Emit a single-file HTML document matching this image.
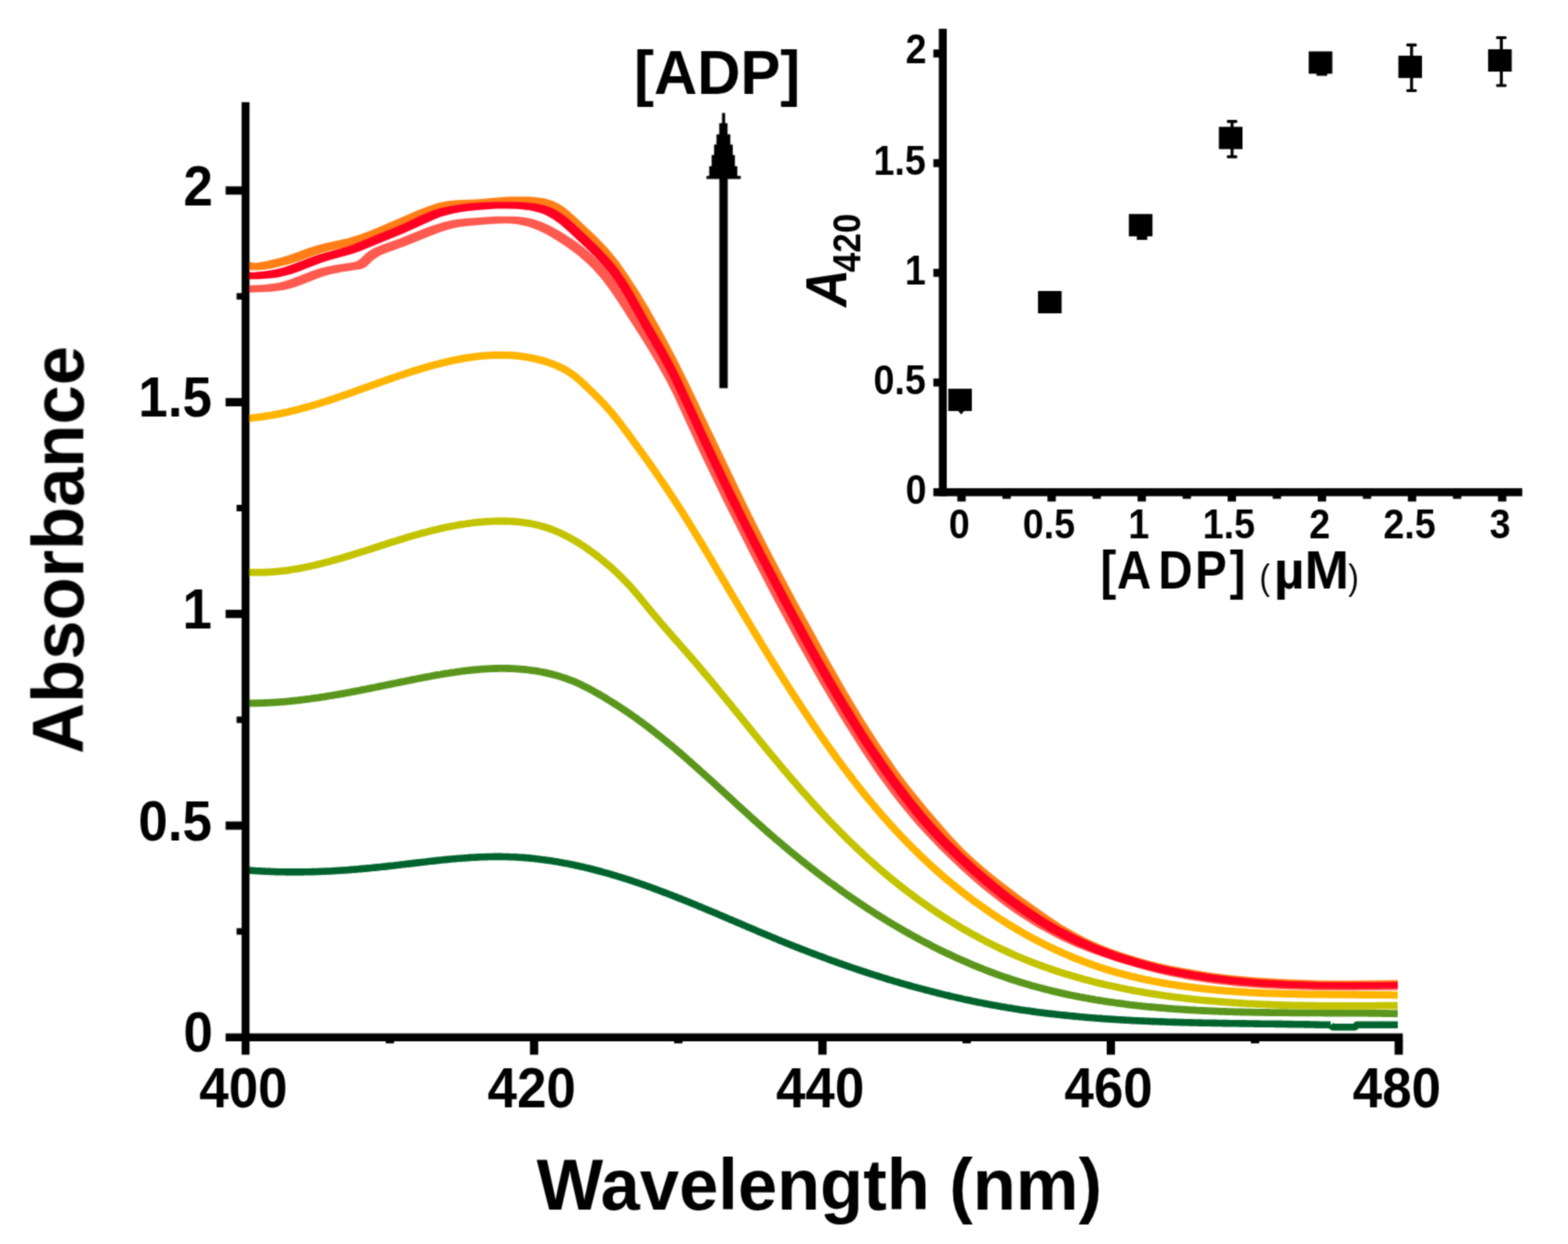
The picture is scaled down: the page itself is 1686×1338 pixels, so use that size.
<!DOCTYPE html>
<html><head><meta charset="utf-8"><title>Absorbance vs Wavelength</title>
<style>html,body{margin:0;padding:0;background:#fff;} svg{display:block;}</style>
</head><body>
<svg width="1686" height="1338" viewBox="0 0 1686 1338" font-family="Liberation Sans, Arial, sans-serif">
<defs><filter id="soft" x="0" y="0" width="100%" height="100%" filterUnits="userSpaceOnUse"><feConvolveMatrix order="3" kernelMatrix="0.0400 0.1200 0.0400 0.1200 0.3600 0.1200 0.0400 0.1200 0.0400" divisor="1" edgeMode="duplicate"/></filter></defs>
<rect width="1686" height="1338" fill="#ffffff"/>
<g filter="url(#soft)">
<path d="M1431.0,1102.2 L1433.0,1104.8 L1457.0,1104.8 L1459.0,1102.2 L1503.0,1102.2" fill="none" stroke="#00632d" stroke-width="7.6" stroke-linejoin="round"/>
<path d="M264.2,935.8 L266.2,935.9 L268.2,936.1 L270.2,936.2 L272.2,936.4 L274.2,936.5 L276.2,936.7 L278.2,936.8 L280.2,936.9 L282.2,937.0 L284.2,937.1 L286.2,937.2 L288.2,937.3 L290.2,937.4 L292.2,937.5 L294.1,937.5 L296.1,937.6 L298.1,937.7 L300.1,937.7 L302.1,937.8 L304.1,937.8 L306.1,937.8 L308.1,937.9 L310.1,937.9 L312.0,937.9 L314.0,937.9 L316.0,937.9 L318.0,937.9 L320.0,937.9 L322.0,937.9 L324.0,937.9 L325.9,937.9 L327.9,937.8 L329.9,937.8 L331.9,937.7 L333.9,937.7 L335.9,937.6 L337.8,937.6 L339.8,937.5 L341.8,937.5 L343.8,937.4 L345.8,937.3 L347.8,937.2 L349.7,937.1 L351.7,937.0 L353.7,937.0 L355.7,936.9 L357.7,936.7 L359.7,936.6 L361.6,936.5 L363.6,936.4 L365.6,936.3 L367.6,936.1 L369.6,936.0 L371.6,935.9 L373.5,935.7 L375.5,935.6 L377.5,935.4 L379.5,935.3 L381.5,935.1 L383.5,935.0 L385.4,934.8 L387.4,934.6 L389.4,934.4 L391.4,934.3 L393.4,934.1 L395.4,933.9 L397.4,933.7 L399.3,933.5 L401.3,933.3 L403.3,933.1 L405.3,932.9 L407.3,932.7 L409.3,932.5 L411.3,932.3 L413.3,932.1 L415.3,931.9 L417.2,931.6 L419.2,931.4 L421.2,931.2 L423.2,931.0 L425.2,930.7 L427.2,930.5 L429.2,930.3 L431.2,930.0 L433.2,929.8 L435.2,929.6 L437.2,929.3 L439.2,929.1 L441.2,928.9 L443.2,928.6 L445.2,928.4 L447.2,928.1 L449.2,927.9 L451.2,927.7 L453.2,927.4 L455.2,927.2 L457.2,927.0 L459.2,926.7 L461.2,926.5 L463.1,926.3 L465.1,926.1 L467.1,925.9 L469.1,925.6 L471.1,925.4 L473.1,925.2 L475.1,925.0 L477.1,924.8 L479.1,924.6 L481.1,924.4 L483.1,924.2 L485.1,924.0 L487.1,923.8 L489.1,923.7 L491.1,923.5 L493.1,923.3 L495.1,923.2 L497.1,923.0 L499.1,922.9 L501.1,922.7 L503.1,922.6 L505.1,922.4 L507.1,922.3 L509.1,922.2 L511.1,922.1 L513.1,922.0 L515.1,921.9 L517.1,921.8 L519.0,921.7 L521.0,921.7 L523.0,921.6 L525.0,921.5 L527.0,921.5 L529.0,921.5 L531.0,921.4 L533.0,921.4 L535.0,921.4 L537.0,921.4 L538.9,921.4 L540.9,921.5 L542.9,921.5 L544.9,921.5 L546.9,921.6 L548.9,921.7 L550.9,921.7 L552.8,921.8 L554.8,921.9 L556.8,922.0 L558.8,922.2 L560.8,922.3 L562.7,922.4 L564.7,922.6 L566.7,922.8 L568.7,922.9 L570.7,923.1 L572.6,923.3 L574.6,923.5 L576.6,923.8 L578.5,924.0 L580.5,924.2 L582.5,924.5 L584.5,924.7 L586.4,925.0 L588.4,925.3 L590.4,925.5 L592.3,925.8 L594.3,926.1 L596.2,926.5 L598.2,926.8 L600.2,927.1 L602.1,927.5 L604.1,927.8 L606.0,928.2 L608.0,928.5 L609.9,928.9 L611.9,929.3 L613.8,929.7 L615.8,930.1 L617.7,930.5 L619.7,930.9 L621.6,931.3 L623.6,931.8 L625.5,932.2 L627.5,932.6 L629.4,933.1 L631.3,933.6 L633.3,934.0 L635.2,934.5 L637.1,935.0 L639.1,935.5 L641.0,936.0 L642.9,936.5 L644.9,937.0 L646.8,937.5 L648.7,938.1 L650.6,938.6 L652.5,939.1 L654.5,939.7 L656.4,940.2 L658.3,940.8 L660.2,941.4 L662.1,941.9 L664.0,942.5 L665.9,943.1 L667.8,943.7 L669.8,944.3 L671.7,944.9 L673.6,945.5 L675.5,946.1 L677.4,946.7 L679.2,947.3 L681.1,948.0 L683.0,948.6 L684.9,949.2 L686.8,949.9 L688.7,950.5 L690.6,951.2 L692.5,951.8 L694.3,952.5 L696.2,953.2 L698.1,953.8 L700.0,954.5 L701.8,955.2 L703.7,955.9 L705.6,956.6 L707.5,957.3 L709.3,958.0 L711.2,958.7 L713.1,959.4 L714.9,960.1 L716.8,960.8 L718.6,961.5 L720.5,962.2 L722.4,962.9 L724.2,963.7 L726.1,964.4 L727.9,965.1 L729.8,965.9 L731.6,966.6 L733.5,967.3 L735.3,968.1 L737.2,968.8 L739.0,969.6 L740.9,970.3 L742.7,971.1 L744.6,971.8 L746.4,972.6 L748.3,973.3 L750.1,974.1 L752.0,974.9 L753.8,975.6 L755.6,976.4 L757.5,977.2 L759.3,977.9 L761.2,978.7 L763.0,979.5 L764.8,980.3 L766.7,981.0 L768.5,981.8 L770.4,982.6 L772.2,983.4 L774.0,984.2 L775.9,984.9 L777.7,985.7 L779.6,986.5 L781.4,987.3 L783.2,988.1 L785.1,988.9 L786.9,989.6 L788.7,990.4 L790.6,991.2 L792.4,992.0 L794.2,992.8 L796.1,993.6 L797.9,994.4 L799.8,995.1 L801.6,995.9 L803.4,996.7 L805.3,997.5 L807.1,998.3 L809.0,999.1 L810.8,999.8 L812.6,1000.6 L814.5,1001.4 L816.3,1002.2 L818.1,1003.0 L820.0,1003.7 L821.8,1004.5 L823.7,1005.3 L825.5,1006.1 L827.4,1006.8 L829.2,1007.6 L831.0,1008.4 L832.9,1009.1 L834.7,1009.9 L836.6,1010.7 L838.4,1011.4 L840.3,1012.2 L842.1,1012.9 L844.0,1013.7 L845.8,1014.4 L847.7,1015.2 L849.5,1015.9 L851.4,1016.7 L853.3,1017.4 L855.1,1018.2 L857.0,1018.9 L858.8,1019.6 L860.7,1020.4 L862.5,1021.1 L864.4,1021.8 L866.3,1022.5 L868.1,1023.3 L870.0,1024.0 L871.9,1024.7 L873.7,1025.4 L875.6,1026.1 L877.5,1026.8 L879.3,1027.5 L881.2,1028.2 L883.1,1028.9 L885.0,1029.6 L886.8,1030.3 L888.7,1031.0 L890.6,1031.7 L892.5,1032.4 L894.3,1033.1 L896.2,1033.7 L898.1,1034.4 L900.0,1035.1 L901.9,1035.8 L903.7,1036.4 L905.6,1037.1 L907.5,1037.7 L909.4,1038.4 L911.3,1039.1 L913.2,1039.7 L915.0,1040.4 L916.9,1041.0 L918.8,1041.6 L920.7,1042.3 L922.6,1042.9 L924.5,1043.6 L926.4,1044.2 L928.3,1044.8 L930.2,1045.4 L932.1,1046.1 L934.0,1046.7 L935.9,1047.3 L937.8,1047.9 L939.7,1048.5 L941.6,1049.1 L943.5,1049.7 L945.4,1050.3 L947.3,1050.9 L949.2,1051.5 L951.1,1052.1 L953.0,1052.7 L954.9,1053.3 L956.8,1053.9 L958.7,1054.4 L960.6,1055.0 L962.5,1055.6 L964.5,1056.1 L966.4,1056.7 L968.3,1057.3 L970.2,1057.8 L972.1,1058.4 L974.0,1058.9 L975.9,1059.5 L977.9,1060.0 L979.8,1060.5 L981.7,1061.1 L983.6,1061.6 L985.5,1062.1 L987.5,1062.7 L989.4,1063.2 L991.3,1063.7 L993.2,1064.2 L995.2,1064.7 L997.1,1065.2 L999.0,1065.7 L1000.9,1066.2 L1002.9,1066.7 L1004.8,1067.2 L1006.7,1067.7 L1008.7,1068.2 L1010.6,1068.7 L1012.5,1069.1 L1014.5,1069.6 L1016.4,1070.1 L1018.3,1070.5 L1020.3,1071.0 L1022.2,1071.5 L1024.1,1071.9 L1026.1,1072.4 L1028.0,1072.8 L1030.0,1073.3 L1031.9,1073.7 L1033.9,1074.1 L1035.8,1074.6 L1037.7,1075.0 L1039.7,1075.4 L1041.6,1075.8 L1043.6,1076.2 L1045.5,1076.7 L1047.5,1077.1 L1049.4,1077.5 L1051.4,1077.9 L1053.3,1078.3 L1055.3,1078.6 L1057.2,1079.0 L1059.2,1079.4 L1061.1,1079.8 L1063.1,1080.2 L1065.0,1080.5 L1067.0,1080.9 L1069.0,1081.3 L1070.9,1081.6 L1072.9,1082.0 L1074.8,1082.3 L1076.8,1082.7 L1078.8,1083.0 L1080.7,1083.3 L1082.7,1083.7 L1084.6,1084.0 L1086.6,1084.3 L1088.6,1084.6 L1090.5,1085.0 L1092.5,1085.3 L1094.5,1085.6 L1096.4,1085.9 L1098.4,1086.2 L1100.4,1086.5 L1102.3,1086.8 L1104.3,1087.0 L1106.3,1087.3 L1108.3,1087.6 L1110.2,1087.9 L1112.2,1088.1 L1114.2,1088.4 L1116.2,1088.7 L1118.1,1088.9 L1120.1,1089.2 L1122.1,1089.4 L1124.1,1089.7 L1126.0,1089.9 L1128.0,1090.2 L1130.0,1090.4 L1132.0,1090.6 L1134.0,1090.8 L1135.9,1091.1 L1137.9,1091.3 L1139.9,1091.5 L1141.9,1091.7 L1143.9,1091.9 L1145.9,1092.1 L1147.8,1092.3 L1149.8,1092.5 L1151.8,1092.7 L1153.8,1092.9 L1155.8,1093.1 L1157.8,1093.3 L1159.8,1093.5 L1161.7,1093.7 L1163.7,1093.8 L1165.7,1094.0 L1167.7,1094.2 L1169.7,1094.4 L1171.7,1094.5 L1173.7,1094.7 L1175.7,1094.8 L1177.7,1095.0 L1179.7,1095.2 L1181.7,1095.3 L1183.6,1095.4 L1185.6,1095.6 L1187.6,1095.7 L1189.6,1095.9 L1191.6,1096.0 L1193.6,1096.1 L1195.6,1096.3 L1197.6,1096.4 L1199.6,1096.5 L1201.6,1096.7 L1203.6,1096.8 L1205.6,1096.9 L1207.6,1097.0 L1209.6,1097.1 L1211.6,1097.2 L1213.6,1097.3 L1215.6,1097.5 L1217.6,1097.6 L1219.6,1097.7 L1221.6,1097.8 L1223.6,1097.9 L1225.6,1098.0 L1227.6,1098.0 L1229.6,1098.1 L1231.6,1098.2 L1233.6,1098.3 L1235.5,1098.4 L1237.5,1098.5 L1239.5,1098.6 L1241.5,1098.6 L1243.5,1098.7 L1245.5,1098.8 L1247.5,1098.9 L1249.5,1098.9 L1251.5,1099.0 L1253.5,1099.1 L1255.5,1099.2 L1257.5,1099.2 L1259.5,1099.3 L1261.5,1099.4 L1263.5,1099.4 L1265.5,1099.5 L1267.5,1099.5 L1269.6,1099.6 L1271.6,1099.6 L1273.6,1099.7 L1275.6,1099.8 L1277.6,1099.8 L1279.6,1099.9 L1281.6,1099.9 L1283.6,1100.0 L1285.6,1100.0 L1287.6,1100.0 L1289.6,1100.1 L1291.6,1100.1 L1293.6,1100.2 L1295.6,1100.2 L1297.6,1100.3 L1299.6,1100.3 L1301.6,1100.3 L1303.5,1100.4 L1305.5,1100.4 L1307.5,1100.4 L1309.5,1100.5 L1311.5,1100.5 L1313.5,1100.5 L1315.5,1100.6 L1317.5,1100.6 L1319.5,1100.6 L1321.5,1100.7 L1323.5,1100.7 L1325.5,1100.7 L1327.5,1100.8 L1329.5,1100.8 L1331.5,1100.8 L1333.5,1100.9 L1335.5,1100.9 L1337.5,1100.9 L1339.5,1100.9 L1341.5,1101.0 L1343.5,1101.0 L1345.5,1101.0 L1347.5,1101.0 L1349.5,1101.1 L1351.5,1101.1 L1353.5,1101.1 L1355.5,1101.2 L1357.4,1101.2 L1359.4,1101.2 L1361.4,1101.2 L1363.4,1101.3 L1365.4,1101.3 L1367.4,1101.3 L1369.4,1101.3 L1371.4,1101.4 L1373.4,1101.4 L1375.4,1101.4 L1377.3,1101.4 L1379.3,1101.5 L1381.3,1101.5 L1383.3,1101.5 L1385.3,1101.6 L1387.3,1101.6 L1389.3,1101.6 L1391.2,1101.7 L1393.2,1101.7 L1395.2,1101.7 L1397.2,1101.8 L1399.2,1101.8 L1401.2,1101.8 L1403.1,1101.9 L1405.1,1101.9 L1407.1,1101.9 L1409.1,1102.0 L1411.1,1102.0 L1413.0,1102.0 L1415.0,1102.1 L1417.0,1102.1 L1419.0,1102.2 L1420.9,1102.2 L1422.9,1102.3 L1424.9,1102.3 L1426.9,1102.3 L1428.8,1102.4 L1430.8,1102.4" fill="none" stroke="#00632d" stroke-width="7.6" stroke-linejoin="round" stroke-linecap="butt"/>
<path d="M264.2,756.3 L266.5,756.3 L268.8,756.4 L271.0,756.3 L273.3,756.3 L275.6,756.3 L277.9,756.2 L280.1,756.2 L282.4,756.1 L284.7,756.0 L286.9,755.9 L289.2,755.8 L291.5,755.7 L293.7,755.6 L296.0,755.4 L298.2,755.3 L300.5,755.1 L302.7,754.9 L305.0,754.8 L307.2,754.6 L309.4,754.4 L311.7,754.2 L313.9,753.9 L316.1,753.7 L318.4,753.5 L320.6,753.2 L322.8,753.0 L325.0,752.7 L327.3,752.4 L329.5,752.1 L331.7,751.8 L333.9,751.5 L336.1,751.2 L338.4,750.9 L340.6,750.6 L342.8,750.3 L345.0,749.9 L347.2,749.6 L349.4,749.3 L351.6,748.9 L353.8,748.5 L356.0,748.2 L358.2,747.8 L360.4,747.4 L362.7,747.1 L364.9,746.7 L367.1,746.3 L369.3,745.9 L371.5,745.5 L373.7,745.1 L375.9,744.7 L378.1,744.2 L380.3,743.8 L382.5,743.4 L384.7,743.0 L386.9,742.6 L389.1,742.1 L391.3,741.7 L393.5,741.3 L395.7,740.8 L397.9,740.4 L400.1,739.9 L402.3,739.5 L404.5,739.0 L406.7,738.6 L408.9,738.1 L411.1,737.7 L413.3,737.2 L415.5,736.8 L417.7,736.3 L420.0,735.9 L422.2,735.4 L424.4,735.0 L426.6,734.5 L428.8,734.1 L431.0,733.6 L433.2,733.2 L435.5,732.7 L437.7,732.3 L439.9,731.8 L442.1,731.4 L444.4,730.9 L446.6,730.5 L448.8,730.0 L451.1,729.6 L453.3,729.2 L455.5,728.7 L457.8,728.3 L460.0,727.9 L462.2,727.5 L464.5,727.0 L466.7,726.6 L469.0,726.2 L471.2,725.8 L473.4,725.5 L475.7,725.1 L477.9,724.7 L480.2,724.3 L482.4,724.0 L484.7,723.6 L486.9,723.3 L489.2,723.0 L491.4,722.6 L493.7,722.3 L495.9,722.0 L498.2,721.7 L500.4,721.5 L502.7,721.2 L504.9,721.0 L507.2,720.7 L509.4,720.5 L511.7,720.3 L513.9,720.1 L516.2,719.9 L518.4,719.7 L520.7,719.6 L522.9,719.4 L525.2,719.3 L527.4,719.2 L529.7,719.1 L531.9,719.0 L534.2,719.0 L536.4,718.9 L538.7,718.9 L540.9,718.9 L543.2,718.9 L545.4,719.0 L547.6,719.0 L549.9,719.1 L552.1,719.2 L554.4,719.3 L556.6,719.5 L558.8,719.6 L561.1,719.8 L563.3,720.0 L565.5,720.2 L567.8,720.5 L570.0,720.8 L572.2,721.1 L574.4,721.4 L576.6,721.7 L578.9,722.1 L581.1,722.5 L583.3,722.9 L585.5,723.4 L587.7,723.9 L589.9,724.4 L592.1,724.9 L594.3,725.4 L596.4,726.0 L598.6,726.6 L600.8,727.2 L602.9,727.9 L605.0,728.6 L607.2,729.3 L609.3,730.0 L611.4,730.8 L613.5,731.6 L615.6,732.4 L617.7,733.2 L619.8,734.1 L621.8,735.0 L623.9,735.9 L625.9,736.9 L627.9,737.9 L629.9,738.9 L631.9,739.9 L633.9,741.0 L635.9,742.1 L637.9,743.2 L639.8,744.3 L641.8,745.4 L643.8,746.5 L645.7,747.6 L647.6,748.8 L649.6,749.9 L651.5,751.1 L653.4,752.3 L655.4,753.5 L657.3,754.7 L659.2,755.9 L661.1,757.1 L663.0,758.3 L664.9,759.5 L666.8,760.7 L668.7,762.0 L670.6,763.2 L672.4,764.5 L674.3,765.8 L676.2,767.0 L678.0,768.3 L679.9,769.6 L681.7,770.9 L683.6,772.2 L685.4,773.5 L687.2,774.9 L689.1,776.2 L690.9,777.5 L692.7,778.9 L694.5,780.2 L696.3,781.6 L698.1,782.9 L699.9,784.3 L701.7,785.7 L703.5,787.1 L705.3,788.5 L707.0,789.9 L708.8,791.3 L710.6,792.7 L712.3,794.1 L714.1,795.5 L715.8,796.9 L717.6,798.3 L719.3,799.8 L721.0,801.2 L722.8,802.6 L724.5,804.1 L726.2,805.5 L727.9,807.0 L729.6,808.5 L731.4,809.9 L733.1,811.4 L734.8,812.9 L736.5,814.3 L738.2,815.8 L739.9,817.3 L741.6,818.8 L743.2,820.3 L744.9,821.8 L746.6,823.3 L748.3,824.8 L750.0,826.3 L751.6,827.8 L753.3,829.3 L755.0,830.8 L756.7,832.3 L758.3,833.8 L760.0,835.3 L761.7,836.8 L763.3,838.4 L765.0,839.9 L766.7,841.4 L768.3,842.9 L770.0,844.4 L771.6,846.0 L773.3,847.5 L774.9,849.0 L776.6,850.5 L778.3,852.1 L779.9,853.6 L781.6,855.1 L783.2,856.6 L784.9,858.2 L786.5,859.7 L788.2,861.2 L789.9,862.8 L791.5,864.3 L793.2,865.8 L794.8,867.3 L796.5,868.9 L798.1,870.4 L799.8,871.9 L801.5,873.4 L803.1,874.9 L804.8,876.4 L806.5,878.0 L808.1,879.5 L809.8,881.0 L811.5,882.5 L813.2,884.0 L814.8,885.5 L816.5,887.0 L818.2,888.5 L819.9,890.0 L821.6,891.5 L823.2,893.0 L824.9,894.5 L826.6,896.0 L828.3,897.4 L830.0,898.9 L831.7,900.4 L833.4,901.9 L835.1,903.3 L836.9,904.8 L838.6,906.2 L840.3,907.7 L842.0,909.2 L843.7,910.6 L845.5,912.0 L847.2,913.5 L848.9,914.9 L850.7,916.4 L852.4,917.8 L854.1,919.2 L855.9,920.6 L857.6,922.1 L859.4,923.5 L861.1,924.9 L862.9,926.3 L864.7,927.7 L866.4,929.1 L868.2,930.5 L870.0,931.9 L871.7,933.3 L873.5,934.7 L875.3,936.0 L877.1,937.4 L878.8,938.8 L880.6,940.1 L882.4,941.5 L884.2,942.9 L886.0,944.2 L887.8,945.6 L889.6,946.9 L891.4,948.3 L893.2,949.6 L895.1,950.9 L896.9,952.2 L898.7,953.6 L900.5,954.9 L902.3,956.2 L904.2,957.5 L906.0,958.8 L907.8,960.1 L909.7,961.4 L911.5,962.7 L913.4,964.0 L915.2,965.3 L917.1,966.5 L918.9,967.8 L920.8,969.1 L922.7,970.3 L924.5,971.6 L926.4,972.8 L928.3,974.1 L930.2,975.3 L932.0,976.6 L933.9,977.8 L935.8,979.0 L937.7,980.2 L939.6,981.4 L941.5,982.7 L943.4,983.9 L945.3,985.1 L947.2,986.3 L949.1,987.4 L951.0,988.6 L953.0,989.8 L954.9,991.0 L956.8,992.1 L958.7,993.3 L960.7,994.5 L962.6,995.6 L964.6,996.7 L966.5,997.9 L968.5,999.0 L970.4,1000.1 L972.4,1001.3 L974.3,1002.4 L976.3,1003.5 L978.2,1004.6 L980.2,1005.7 L982.2,1006.8 L984.2,1007.9 L986.2,1009.0 L988.1,1010.0 L990.1,1011.1 L992.1,1012.2 L994.1,1013.2 L996.1,1014.3 L998.1,1015.3 L1000.1,1016.3 L1002.1,1017.4 L1004.1,1018.4 L1006.2,1019.4 L1008.2,1020.4 L1010.2,1021.4 L1012.2,1022.4 L1014.3,1023.4 L1016.3,1024.4 L1018.3,1025.4 L1020.4,1026.3 L1022.4,1027.3 L1024.5,1028.3 L1026.5,1029.2 L1028.6,1030.2 L1030.6,1031.1 L1032.7,1032.0 L1034.8,1032.9 L1036.8,1033.8 L1038.9,1034.7 L1041.0,1035.6 L1043.0,1036.5 L1045.1,1037.4 L1047.2,1038.3 L1049.3,1039.1 L1051.4,1040.0 L1053.5,1040.8 L1055.6,1041.7 L1057.6,1042.5 L1059.7,1043.3 L1061.8,1044.2 L1064.0,1045.0 L1066.1,1045.8 L1068.2,1046.5 L1070.3,1047.3 L1072.4,1048.1 L1074.5,1048.9 L1076.6,1049.6 L1078.8,1050.4 L1080.9,1051.1 L1083.0,1051.8 L1085.1,1052.5 L1087.3,1053.3 L1089.4,1054.0 L1091.5,1054.6 L1093.7,1055.3 L1095.8,1056.0 L1098.0,1056.7 L1100.1,1057.3 L1102.3,1058.0 L1104.4,1058.6 L1106.6,1059.2 L1108.7,1059.9 L1110.9,1060.5 L1113.1,1061.1 L1115.2,1061.7 L1117.4,1062.2 L1119.6,1062.8 L1121.7,1063.4 L1123.9,1063.9 L1126.1,1064.5 L1128.2,1065.0 L1130.4,1065.6 L1132.6,1066.1 L1134.8,1066.6 L1137.0,1067.1 L1139.2,1067.6 L1141.3,1068.1 L1143.5,1068.6 L1145.7,1069.1 L1147.9,1069.6 L1150.1,1070.1 L1152.3,1070.5 L1154.5,1071.0 L1156.7,1071.4 L1158.9,1071.8 L1161.1,1072.3 L1163.3,1072.7 L1165.5,1073.1 L1167.7,1073.5 L1170.0,1073.9 L1172.2,1074.3 L1174.4,1074.7 L1176.6,1075.1 L1178.8,1075.5 L1181.0,1075.8 L1183.3,1076.2 L1185.5,1076.5 L1187.7,1076.9 L1189.9,1077.2 L1192.2,1077.6 L1194.4,1077.9 L1196.6,1078.2 L1198.8,1078.5 L1201.1,1078.8 L1203.3,1079.1 L1205.5,1079.4 L1207.8,1079.7 L1210.0,1080.0 L1212.3,1080.3 L1214.5,1080.6 L1216.7,1080.8 L1219.0,1081.1 L1221.2,1081.3 L1223.5,1081.6 L1225.7,1081.8 L1228.0,1082.1 L1230.2,1082.3 L1232.4,1082.6 L1234.7,1082.8 L1236.9,1083.0 L1239.2,1083.2 L1241.4,1083.4 L1243.7,1083.6 L1246.0,1083.8 L1248.2,1084.0 L1250.5,1084.2 L1252.7,1084.4 L1255.0,1084.6 L1257.2,1084.8 L1259.5,1084.9 L1261.8,1085.1 L1264.0,1085.3 L1266.3,1085.4 L1268.5,1085.6 L1270.8,1085.7 L1273.1,1085.9 L1275.3,1086.0 L1277.6,1086.1 L1279.8,1086.3 L1282.1,1086.4 L1284.4,1086.5 L1286.6,1086.7 L1288.9,1086.8 L1291.2,1086.9 L1293.4,1087.0 L1295.7,1087.1 L1298.0,1087.2 L1300.2,1087.3 L1302.5,1087.4 L1304.8,1087.5 L1307.0,1087.6 L1309.3,1087.7 L1311.6,1087.8 L1313.9,1087.9 L1316.1,1087.9 L1318.4,1088.0 L1320.7,1088.1 L1322.9,1088.2 L1325.2,1088.2 L1327.5,1088.3 L1329.7,1088.4 L1332.0,1088.4 L1334.3,1088.5 L1336.6,1088.5 L1338.8,1088.6 L1341.1,1088.6 L1343.4,1088.7 L1345.6,1088.7 L1347.9,1088.8 L1350.2,1088.8 L1352.4,1088.9 L1354.7,1088.9 L1357.0,1088.9 L1359.3,1089.0 L1361.5,1089.0 L1363.8,1089.0 L1366.1,1089.1 L1368.3,1089.1 L1370.6,1089.1 L1372.9,1089.1 L1375.1,1089.2 L1377.4,1089.2 L1379.7,1089.2 L1381.9,1089.2 L1384.2,1089.2 L1386.4,1089.3 L1388.7,1089.3 L1391.0,1089.3 L1393.2,1089.3 L1395.5,1089.3 L1397.8,1089.3 L1400.0,1089.3 L1402.3,1089.4 L1404.5,1089.4 L1406.8,1089.4 L1409.0,1089.4 L1411.3,1089.4 L1413.6,1089.4 L1415.8,1089.4 L1418.1,1089.4 L1420.3,1089.4 L1422.6,1089.4 L1424.8,1089.5 L1427.1,1089.5 L1429.3,1089.5 L1431.6,1089.5 L1433.8,1089.5 L1436.1,1089.5 L1438.3,1089.5 L1440.6,1089.5 L1442.8,1089.5 L1445.0,1089.5 L1447.3,1089.6 L1449.5,1089.6 L1451.8,1089.6 L1454.0,1089.6 L1456.2,1089.6 L1458.5,1089.6 L1460.7,1089.6 L1462.9,1089.7 L1465.2,1089.7 L1467.4,1089.7 L1469.6,1089.7 L1471.9,1089.8 L1474.1,1089.8 L1476.3,1089.8 L1478.5,1089.8 L1480.7,1089.9 L1483.0,1089.9 L1485.2,1089.9 L1487.4,1090.0 L1489.6,1090.0 L1491.8,1090.0 L1494.0,1090.1 L1496.3,1090.1 L1498.5,1090.2 L1500.7,1090.2 L1502.9,1090.2" fill="none" stroke="#5a961e" stroke-width="7.8" stroke-linejoin="round" stroke-linecap="butt"/>
<path d="M264.2,615.4 L266.6,615.5 L269.1,615.6 L271.5,615.7 L274.0,615.7 L276.4,615.7 L278.8,615.7 L281.2,615.7 L283.6,615.6 L286.0,615.5 L288.4,615.4 L290.8,615.2 L293.2,615.1 L295.6,614.9 L298.0,614.7 L300.4,614.4 L302.8,614.2 L305.1,613.9 L307.5,613.6 L309.9,613.3 L312.2,612.9 L314.6,612.5 L317.0,612.2 L319.3,611.8 L321.7,611.4 L324.0,610.9 L326.3,610.5 L328.7,610.0 L331.0,609.5 L333.3,609.0 L335.7,608.5 L338.0,608.0 L340.3,607.4 L342.6,606.9 L345.0,606.3 L347.3,605.7 L349.6,605.1 L351.9,604.5 L354.2,603.9 L356.5,603.3 L358.8,602.6 L361.1,602.0 L363.5,601.3 L365.8,600.7 L368.1,600.0 L370.4,599.3 L372.7,598.6 L375.0,597.9 L377.3,597.2 L379.6,596.5 L381.8,595.8 L384.1,595.1 L386.4,594.4 L388.7,593.6 L391.0,592.9 L393.3,592.2 L395.6,591.4 L397.9,590.7 L400.2,590.0 L402.5,589.2 L404.8,588.5 L407.1,587.7 L409.4,587.0 L411.7,586.2 L414.0,585.5 L416.3,584.8 L418.6,584.0 L420.9,583.3 L423.2,582.6 L425.5,581.9 L427.8,581.1 L430.1,580.4 L432.4,579.7 L434.7,579.0 L437.0,578.3 L439.3,577.6 L441.6,576.9 L444.0,576.3 L446.3,575.6 L448.6,574.9 L450.9,574.3 L453.2,573.6 L455.6,573.0 L457.9,572.4 L460.2,571.8 L462.6,571.2 L464.9,570.6 L467.2,570.0 L469.6,569.5 L471.9,568.9 L474.3,568.4 L476.6,567.9 L479.0,567.3 L481.3,566.8 L483.7,566.4 L486.0,565.9 L488.4,565.5 L490.8,565.0 L493.1,564.6 L495.5,564.2 L497.9,563.8 L500.3,563.5 L502.6,563.1 L505.0,562.8 L507.4,562.5 L509.8,562.2 L512.2,561.9 L514.6,561.7 L517.0,561.5 L519.4,561.3 L521.8,561.1 L524.2,560.9 L526.6,560.8 L529.0,560.7 L531.4,560.6 L533.8,560.5 L536.3,560.5 L538.7,560.5 L541.1,560.5 L543.5,560.5 L545.9,560.6 L548.3,560.7 L550.7,560.8 L553.1,561.0 L555.5,561.2 L557.9,561.4 L560.3,561.7 L562.7,562.0 L565.0,562.3 L567.4,562.7 L569.8,563.1 L572.1,563.5 L574.5,564.0 L576.8,564.5 L579.1,565.1 L581.4,565.7 L583.7,566.3 L586.0,567.0 L588.3,567.7 L590.5,568.5 L592.8,569.3 L595.0,570.2 L597.2,571.0 L599.4,572.0 L601.6,572.9 L603.8,573.9 L606.0,575.0 L608.1,576.1 L610.3,577.2 L612.4,578.3 L614.5,579.5 L616.6,580.7 L618.7,581.9 L620.7,583.1 L622.8,584.4 L624.8,585.7 L626.9,587.0 L628.9,588.4 L630.9,589.8 L632.9,591.2 L634.8,592.6 L636.8,594.0 L638.7,595.4 L640.7,596.9 L642.6,598.4 L644.5,599.8 L646.4,601.3 L648.2,602.9 L650.1,604.4 L651.9,605.9 L653.8,607.5 L655.6,609.1 L657.4,610.6 L659.2,612.2 L660.9,613.9 L662.7,615.5 L664.4,617.1 L666.1,618.8 L667.9,620.5 L669.5,622.2 L671.2,623.9 L672.9,625.6 L674.5,627.3 L676.1,629.1 L677.8,630.8 L679.4,632.6 L680.9,634.4 L682.5,636.2 L684.1,638.1 L685.6,639.9 L687.2,641.7 L688.7,643.6 L690.2,645.4 L691.7,647.3 L693.3,649.2 L694.8,651.0 L696.3,652.9 L697.8,654.7 L699.3,656.6 L700.9,658.5 L702.4,660.3 L704.0,662.1 L705.5,664.0 L707.1,665.8 L708.6,667.6 L710.2,669.5 L711.7,671.3 L713.3,673.1 L714.9,674.9 L716.4,676.7 L718.0,678.5 L719.6,680.4 L721.2,682.2 L722.8,684.0 L724.3,685.8 L725.9,687.6 L727.5,689.4 L729.1,691.2 L730.7,693.0 L732.3,694.8 L733.9,696.6 L735.4,698.4 L737.0,700.2 L738.6,702.0 L740.2,703.8 L741.8,705.6 L743.3,707.4 L744.9,709.2 L746.5,711.1 L748.1,712.9 L749.6,714.7 L751.2,716.5 L752.7,718.4 L754.3,720.2 L755.8,722.0 L757.4,723.9 L758.9,725.7 L760.5,727.5 L762.0,729.4 L763.6,731.2 L765.1,733.1 L766.6,734.9 L768.2,736.8 L769.7,738.6 L771.2,740.5 L772.8,742.3 L774.3,744.2 L775.8,746.1 L777.3,747.9 L778.9,749.8 L780.4,751.7 L781.9,753.5 L783.4,755.4 L785.0,757.2 L786.5,759.1 L788.0,761.0 L789.5,762.9 L791.0,764.7 L792.5,766.6 L794.1,768.5 L795.6,770.3 L797.1,772.2 L798.6,774.1 L800.1,775.9 L801.6,777.8 L803.1,779.7 L804.7,781.5 L806.2,783.4 L807.7,785.3 L809.2,787.2 L810.7,789.0 L812.3,790.9 L813.8,792.8 L815.3,794.6 L816.8,796.5 L818.3,798.3 L819.9,800.2 L821.4,802.1 L822.9,803.9 L824.4,805.8 L826.0,807.6 L827.5,809.5 L829.0,811.3 L830.6,813.2 L832.1,815.0 L833.6,816.9 L835.2,818.7 L836.7,820.6 L838.3,822.4 L839.8,824.3 L841.4,826.1 L842.9,827.9 L844.5,829.8 L846.0,831.6 L847.6,833.4 L849.1,835.3 L850.7,837.1 L852.3,838.9 L853.8,840.7 L855.4,842.5 L857.0,844.3 L858.6,846.2 L860.1,848.0 L861.7,849.8 L863.3,851.6 L864.9,853.4 L866.5,855.2 L868.1,857.0 L869.7,858.7 L871.3,860.5 L872.9,862.3 L874.5,864.1 L876.1,865.9 L877.7,867.6 L879.3,869.4 L881.0,871.2 L882.6,872.9 L884.2,874.7 L885.9,876.4 L887.5,878.2 L889.1,879.9 L890.8,881.7 L892.4,883.4 L894.1,885.1 L895.8,886.9 L897.4,888.6 L899.1,890.3 L900.8,892.0 L902.4,893.7 L904.1,895.4 L905.8,897.1 L907.5,898.8 L909.2,900.5 L910.9,902.2 L912.6,903.9 L914.3,905.5 L916.0,907.2 L917.8,908.9 L919.5,910.5 L921.2,912.2 L923.0,913.8 L924.7,915.5 L926.5,917.1 L928.2,918.8 L930.0,920.4 L931.7,922.0 L933.5,923.6 L935.3,925.2 L937.1,926.8 L938.9,928.4 L940.7,930.0 L942.5,931.6 L944.3,933.2 L946.1,934.8 L947.9,936.3 L949.8,937.9 L951.6,939.4 L953.4,941.0 L955.3,942.5 L957.1,944.1 L959.0,945.6 L960.9,947.1 L962.7,948.6 L964.6,950.1 L966.5,951.6 L968.4,953.1 L970.3,954.6 L972.2,956.1 L974.1,957.6 L976.0,959.0 L977.9,960.5 L979.9,961.9 L981.8,963.4 L983.7,964.8 L985.7,966.2 L987.6,967.7 L989.6,969.1 L991.6,970.5 L993.5,971.9 L995.5,973.3 L997.5,974.6 L999.5,976.0 L1001.4,977.4 L1003.4,978.7 L1005.4,980.1 L1007.4,981.4 L1009.5,982.8 L1011.5,984.1 L1013.5,985.4 L1015.5,986.7 L1017.6,988.0 L1019.6,989.3 L1021.6,990.6 L1023.7,991.8 L1025.7,993.1 L1027.8,994.4 L1029.9,995.6 L1031.9,996.8 L1034.0,998.1 L1036.1,999.3 L1038.2,1000.5 L1040.3,1001.7 L1042.3,1002.9 L1044.4,1004.1 L1046.5,1005.2 L1048.7,1006.4 L1050.8,1007.5 L1052.9,1008.7 L1055.0,1009.8 L1057.1,1010.9 L1059.3,1012.1 L1061.4,1013.2 L1063.5,1014.3 L1065.7,1015.3 L1067.8,1016.4 L1070.0,1017.5 L1072.1,1018.5 L1074.3,1019.6 L1076.5,1020.6 L1078.6,1021.6 L1080.8,1022.6 L1083.0,1023.6 L1085.2,1024.6 L1087.3,1025.6 L1089.5,1026.6 L1091.7,1027.5 L1093.9,1028.5 L1096.1,1029.4 L1098.3,1030.3 L1100.5,1031.3 L1102.8,1032.2 L1105.0,1033.1 L1107.2,1033.9 L1109.4,1034.8 L1111.6,1035.7 L1113.9,1036.5 L1116.1,1037.4 L1118.4,1038.2 L1120.6,1039.0 L1122.8,1039.8 L1125.1,1040.6 L1127.3,1041.4 L1129.6,1042.2 L1131.9,1043.0 L1134.1,1043.7 L1136.4,1044.5 L1138.7,1045.2 L1140.9,1046.0 L1143.2,1046.7 L1145.5,1047.4 L1147.8,1048.1 L1150.1,1048.8 L1152.4,1049.5 L1154.6,1050.1 L1156.9,1050.8 L1159.2,1051.5 L1161.5,1052.1 L1163.8,1052.8 L1166.1,1053.4 L1168.5,1054.0 L1170.8,1054.6 L1173.1,1055.2 L1175.4,1055.8 L1177.7,1056.4 L1180.0,1057.0 L1182.4,1057.6 L1184.7,1058.1 L1187.0,1058.7 L1189.4,1059.2 L1191.7,1059.8 L1194.0,1060.3 L1196.4,1060.8 L1198.7,1061.3 L1201.1,1061.8 L1203.4,1062.3 L1205.8,1062.8 L1208.1,1063.3 L1210.5,1063.7 L1212.8,1064.2 L1215.2,1064.7 L1217.5,1065.1 L1219.9,1065.6 L1222.3,1066.0 L1224.6,1066.4 L1227.0,1066.8 L1229.4,1067.2 L1231.7,1067.7 L1234.1,1068.1 L1236.5,1068.4 L1238.9,1068.8 L1241.2,1069.2 L1243.6,1069.6 L1246.0,1069.9 L1248.4,1070.3 L1250.8,1070.6 L1253.2,1071.0 L1255.5,1071.3 L1257.9,1071.6 L1260.3,1072.0 L1262.7,1072.3 L1265.1,1072.6 L1267.5,1072.9 L1269.9,1073.2 L1272.3,1073.5 L1274.7,1073.8 L1277.1,1074.0 L1279.5,1074.3 L1281.9,1074.6 L1284.3,1074.8 L1286.7,1075.1 L1289.1,1075.3 L1291.5,1075.6 L1293.9,1075.8 L1296.3,1076.0 L1298.7,1076.3 L1301.2,1076.5 L1303.6,1076.7 L1306.0,1076.9 L1308.4,1077.1 L1310.8,1077.3 L1313.2,1077.5 L1315.6,1077.7 L1318.0,1077.9 L1320.5,1078.1 L1322.9,1078.2 L1325.3,1078.4 L1327.7,1078.6 L1330.1,1078.7 L1332.5,1078.9 L1334.9,1079.0 L1337.4,1079.2 L1339.8,1079.3 L1342.2,1079.5 L1344.6,1079.6 L1347.0,1079.7 L1349.5,1079.8 L1351.9,1080.0 L1354.3,1080.1 L1356.7,1080.2 L1359.1,1080.3 L1361.5,1080.4 L1364.0,1080.5 L1366.4,1080.6 L1368.8,1080.7 L1371.2,1080.8 L1373.6,1080.8 L1376.0,1080.9 L1378.5,1081.0 L1380.9,1081.1 L1383.3,1081.1 L1385.7,1081.2 L1388.1,1081.3 L1390.5,1081.3 L1393.0,1081.4 L1395.4,1081.4 L1397.8,1081.5 L1400.2,1081.5 L1402.6,1081.6 L1405.0,1081.6 L1407.4,1081.6 L1409.8,1081.7 L1412.2,1081.7 L1414.6,1081.7 L1417.0,1081.8 L1419.5,1081.8 L1421.9,1081.8 L1424.3,1081.8 L1426.7,1081.9 L1429.1,1081.9 L1431.5,1081.9 L1433.9,1081.9 L1436.3,1081.9 L1438.7,1081.9 L1441.0,1081.9 L1443.4,1081.9 L1445.8,1081.9 L1448.2,1081.9 L1450.6,1081.9 L1453.0,1081.9 L1455.4,1081.9 L1457.8,1081.9 L1460.2,1081.9 L1462.5,1081.9 L1464.9,1081.9 L1467.3,1081.8 L1469.7,1081.8 L1472.0,1081.8 L1474.4,1081.8 L1476.8,1081.8 L1479.2,1081.8 L1481.5,1081.7 L1483.9,1081.7 L1486.3,1081.7 L1488.6,1081.7 L1491.0,1081.7 L1493.3,1081.6 L1495.7,1081.6 L1498.1,1081.6 L1500.4,1081.6 L1502.8,1081.5" fill="none" stroke="#c3c300" stroke-width="7.8" stroke-linejoin="round" stroke-linecap="butt"/>
<path d="M264.0,450.1 L266.7,449.9 L269.4,449.7 L272.0,449.4 L274.6,449.1 L277.3,448.8 L279.9,448.5 L282.5,448.1 L285.1,447.7 L287.7,447.3 L290.3,446.9 L292.9,446.5 L295.4,446.0 L298.0,445.5 L300.5,445.0 L303.1,444.5 L305.6,443.9 L308.2,443.4 L310.7,442.8 L313.2,442.2 L315.7,441.6 L318.2,441.0 L320.7,440.4 L323.2,439.7 L325.7,439.0 L328.2,438.4 L330.7,437.7 L333.2,437.0 L335.6,436.2 L338.1,435.5 L340.6,434.8 L343.0,434.0 L345.5,433.2 L347.9,432.5 L350.4,431.7 L352.8,430.9 L355.3,430.1 L357.7,429.3 L360.2,428.5 L362.6,427.6 L365.1,426.8 L367.5,426.0 L369.9,425.1 L372.4,424.3 L374.8,423.4 L377.2,422.6 L379.7,421.7 L382.1,420.8 L384.5,420.0 L387.0,419.1 L389.4,418.2 L391.9,417.3 L394.3,416.5 L396.7,415.6 L399.2,414.7 L401.6,413.8 L404.1,413.0 L406.5,412.1 L409.0,411.2 L411.4,410.3 L413.9,409.5 L416.3,408.6 L418.8,407.7 L421.3,406.9 L423.7,406.0 L426.2,405.2 L428.7,404.3 L431.2,403.5 L433.6,402.7 L436.1,401.9 L438.6,401.0 L441.1,400.2 L443.6,399.4 L446.2,398.6 L448.7,397.9 L451.2,397.1 L453.7,396.3 L456.3,395.6 L458.8,394.8 L461.4,394.1 L463.9,393.4 L466.4,392.7 L469.0,392.0 L471.6,391.4 L474.1,390.7 L476.7,390.1 L479.3,389.5 L481.8,388.9 L484.4,388.3 L487.0,387.7 L489.5,387.2 L492.1,386.7 L494.7,386.2 L497.3,385.7 L499.9,385.3 L502.4,384.9 L505.0,384.5 L507.6,384.1 L510.2,383.8 L512.8,383.4 L515.4,383.1 L517.9,382.9 L520.5,382.6 L523.1,382.4 L525.7,382.3 L528.3,382.1 L530.8,382.0 L533.4,381.9 L536.0,381.9 L538.5,381.9 L541.1,381.9 L543.7,381.9 L546.2,382.0 L548.8,382.2 L551.4,382.3 L553.9,382.5 L556.5,382.8 L559.0,383.0 L561.5,383.4 L564.1,383.7 L566.6,384.1 L569.1,384.6 L571.6,385.0 L574.2,385.6 L576.7,386.1 L579.2,386.8 L581.7,387.4 L584.2,388.1 L586.7,388.9 L589.1,389.7 L591.6,390.5 L594.1,391.4 L596.5,392.4 L598.9,393.4 L601.3,394.5 L603.7,395.6 L606.0,396.8 L608.3,398.1 L610.5,399.4 L612.7,400.8 L614.8,402.3 L616.9,403.8 L619.0,405.4 L621.0,407.0 L623.0,408.7 L624.9,410.5 L626.8,412.2 L628.7,414.0 L630.6,415.8 L632.5,417.6 L634.4,419.4 L636.3,421.2 L638.2,423.0 L640.0,424.9 L641.8,426.7 L643.7,428.6 L645.5,430.4 L647.3,432.3 L649.1,434.2 L650.8,436.1 L652.6,438.1 L654.3,440.0 L656.0,442.0 L657.7,443.9 L659.3,445.9 L661.0,447.9 L662.6,450.0 L664.2,452.0 L665.8,454.1 L667.4,456.1 L668.9,458.2 L670.5,460.3 L672.1,462.4 L673.6,464.4 L675.2,466.5 L676.7,468.6 L678.3,470.7 L679.8,472.8 L681.3,474.9 L682.9,477.0 L684.4,479.1 L685.9,481.2 L687.5,483.3 L689.0,485.4 L690.5,487.5 L692.0,489.6 L693.6,491.8 L695.1,493.9 L696.6,496.0 L698.1,498.1 L699.6,500.2 L701.1,502.4 L702.6,504.5 L704.1,506.6 L705.6,508.8 L707.0,510.9 L708.5,513.1 L710.0,515.2 L711.5,517.4 L712.9,519.5 L714.4,521.7 L715.8,523.8 L717.3,526.0 L718.8,528.1 L720.2,530.3 L721.6,532.5 L723.1,534.7 L724.5,536.8 L725.9,539.0 L727.3,541.2 L728.8,543.4 L730.2,545.6 L731.6,547.8 L733.0,549.9 L734.4,552.1 L735.8,554.3 L737.1,556.6 L738.5,558.8 L739.9,561.0 L741.3,563.2 L742.6,565.4 L744.0,567.6 L745.4,569.8 L746.7,572.0 L748.1,574.3 L749.4,576.5 L750.8,578.7 L752.1,580.9 L753.5,583.2 L754.8,585.4 L756.1,587.6 L757.5,589.9 L758.8,592.1 L760.2,594.3 L761.5,596.6 L762.8,598.8 L764.2,601.0 L765.5,603.3 L766.8,605.5 L768.1,607.7 L769.5,610.0 L770.8,612.2 L772.1,614.5 L773.5,616.7 L774.8,618.9 L776.1,621.2 L777.4,623.4 L778.8,625.6 L780.1,627.9 L781.4,630.1 L782.7,632.4 L784.1,634.6 L785.4,636.8 L786.7,639.1 L788.1,641.3 L789.4,643.5 L790.7,645.8 L792.1,648.0 L793.4,650.2 L794.7,652.5 L796.1,654.7 L797.4,657.0 L798.7,659.2 L800.1,661.4 L801.4,663.6 L802.7,665.9 L804.1,668.1 L805.4,670.3 L806.8,672.6 L808.1,674.8 L809.4,677.0 L810.8,679.3 L812.1,681.5 L813.5,683.7 L814.8,685.9 L816.2,688.1 L817.5,690.4 L818.9,692.6 L820.2,694.8 L821.6,697.0 L823.0,699.2 L824.3,701.5 L825.7,703.7 L827.0,705.9 L828.4,708.1 L829.8,710.3 L831.2,712.5 L832.5,714.7 L833.9,716.9 L835.3,719.1 L836.7,721.3 L838.0,723.5 L839.4,725.7 L840.8,727.9 L842.2,730.1 L843.6,732.3 L845.0,734.5 L846.4,736.7 L847.8,738.9 L849.2,741.1 L850.6,743.3 L852.0,745.5 L853.4,747.7 L854.8,749.8 L856.3,752.0 L857.7,754.2 L859.1,756.4 L860.5,758.5 L862.0,760.7 L863.4,762.9 L864.8,765.0 L866.3,767.2 L867.7,769.4 L869.2,771.5 L870.6,773.7 L872.1,775.8 L873.5,778.0 L875.0,780.1 L876.4,782.3 L877.9,784.4 L879.4,786.6 L880.9,788.7 L882.3,790.9 L883.8,793.0 L885.3,795.1 L886.8,797.3 L888.3,799.4 L889.8,801.5 L891.3,803.6 L892.8,805.7 L894.3,807.9 L895.9,810.0 L897.4,812.1 L898.9,814.2 L900.4,816.3 L902.0,818.4 L903.5,820.5 L905.1,822.6 L906.6,824.7 L908.2,826.7 L909.7,828.8 L911.3,830.9 L912.9,833.0 L914.5,835.0 L916.0,837.1 L917.6,839.1 L919.2,841.2 L920.8,843.3 L922.4,845.3 L924.0,847.3 L925.7,849.4 L927.3,851.4 L928.9,853.4 L930.5,855.4 L932.2,857.5 L933.8,859.5 L935.5,861.5 L937.1,863.5 L938.8,865.5 L940.5,867.5 L942.2,869.4 L943.8,871.4 L945.5,873.4 L947.2,875.4 L948.9,877.3 L950.6,879.3 L952.4,881.2 L954.1,883.2 L955.8,885.1 L957.5,887.0 L959.3,888.9 L961.0,890.9 L962.8,892.8 L964.6,894.7 L966.3,896.6 L968.1,898.5 L969.9,900.3 L971.7,902.2 L973.5,904.1 L975.3,905.9 L977.1,907.8 L979.0,909.6 L980.8,911.5 L982.6,913.3 L984.5,915.1 L986.3,916.9 L988.2,918.8 L990.1,920.6 L991.9,922.4 L993.8,924.1 L995.7,925.9 L997.6,927.7 L999.5,929.5 L1001.4,931.2 L1003.4,933.0 L1005.3,934.7 L1007.2,936.4 L1009.2,938.1 L1011.1,939.9 L1013.1,941.6 L1015.0,943.3 L1017.0,945.0 L1019.0,946.6 L1021.0,948.3 L1023.0,950.0 L1025.0,951.6 L1027.0,953.3 L1029.0,954.9 L1031.1,956.5 L1033.1,958.2 L1035.2,959.8 L1037.2,961.4 L1039.3,963.0 L1041.3,964.5 L1043.4,966.1 L1045.5,967.7 L1047.6,969.2 L1049.7,970.8 L1051.8,972.3 L1053.9,973.8 L1056.1,975.3 L1058.2,976.9 L1060.3,978.3 L1062.5,979.8 L1064.6,981.3 L1066.8,982.8 L1069.0,984.2 L1071.1,985.7 L1073.3,987.1 L1075.5,988.5 L1077.7,989.9 L1079.9,991.3 L1082.1,992.7 L1084.3,994.1 L1086.6,995.5 L1088.8,996.8 L1091.0,998.1 L1093.3,999.5 L1095.5,1000.8 L1097.8,1002.1 L1100.0,1003.4 L1102.3,1004.7 L1104.6,1006.0 L1106.9,1007.2 L1109.2,1008.5 L1111.5,1009.7 L1113.8,1010.9 L1116.1,1012.1 L1118.4,1013.3 L1120.7,1014.5 L1123.0,1015.7 L1125.3,1016.8 L1127.7,1018.0 L1130.0,1019.1 L1132.4,1020.2 L1134.7,1021.3 L1137.1,1022.4 L1139.5,1023.5 L1141.8,1024.6 L1144.2,1025.6 L1146.6,1026.6 L1149.0,1027.7 L1151.4,1028.7 L1153.8,1029.7 L1156.2,1030.7 L1158.6,1031.6 L1161.0,1032.6 L1163.4,1033.5 L1165.8,1034.4 L1168.3,1035.3 L1170.7,1036.2 L1173.1,1037.1 L1175.6,1038.0 L1178.0,1038.8 L1180.5,1039.6 L1182.9,1040.5 L1185.4,1041.3 L1187.9,1042.1 L1190.3,1042.8 L1192.8,1043.6 L1195.3,1044.3 L1197.8,1045.1 L1200.3,1045.8 L1202.7,1046.5 L1205.2,1047.2 L1207.7,1047.8 L1210.2,1048.5 L1212.8,1049.1 L1215.3,1049.8 L1217.8,1050.4 L1220.3,1051.0 L1222.8,1051.6 L1225.3,1052.2 L1227.9,1052.7 L1230.4,1053.3 L1232.9,1053.8 L1235.5,1054.3 L1238.0,1054.9 L1240.6,1055.4 L1243.1,1055.9 L1245.7,1056.3 L1248.2,1056.8 L1250.8,1057.3 L1253.4,1057.7 L1255.9,1058.2 L1258.5,1058.6 L1261.1,1059.0 L1263.6,1059.4 L1266.2,1059.8 L1268.8,1060.2 L1271.4,1060.5 L1273.9,1060.9 L1276.5,1061.3 L1279.1,1061.6 L1281.7,1061.9 L1284.3,1062.3 L1286.9,1062.6 L1289.5,1062.9 L1292.1,1063.2 L1294.7,1063.5 L1297.3,1063.7 L1299.9,1064.0 L1302.5,1064.3 L1305.1,1064.5 L1307.7,1064.8 L1310.3,1065.0 L1312.9,1065.2 L1315.5,1065.5 L1318.1,1065.7 L1320.7,1065.9 L1323.3,1066.1 L1326.0,1066.3 L1328.6,1066.5 L1331.2,1066.6 L1333.8,1066.8 L1336.4,1067.0 L1339.1,1067.1 L1341.7,1067.3 L1344.3,1067.4 L1346.9,1067.6 L1349.5,1067.7 L1352.2,1067.8 L1354.8,1067.9 L1357.4,1068.1 L1360.0,1068.2 L1362.7,1068.3 L1365.3,1068.4 L1367.9,1068.5 L1370.5,1068.6 L1373.2,1068.6 L1375.8,1068.7 L1378.4,1068.8 L1381.0,1068.9 L1383.6,1068.9 L1386.3,1069.0 L1388.9,1069.1 L1391.5,1069.1 L1394.1,1069.2 L1396.8,1069.2 L1399.4,1069.3 L1402.0,1069.3 L1404.6,1069.4 L1407.2,1069.4 L1409.8,1069.4 L1412.5,1069.5 L1415.1,1069.5 L1417.7,1069.5 L1420.3,1069.6 L1422.9,1069.6 L1425.5,1069.6 L1428.1,1069.6 L1430.7,1069.7 L1433.3,1069.7 L1435.9,1069.7 L1438.5,1069.7 L1441.1,1069.7 L1443.7,1069.8 L1446.3,1069.8 L1448.9,1069.8 L1451.5,1069.8 L1454.1,1069.8 L1456.7,1069.8 L1459.3,1069.8 L1461.9,1069.9 L1464.5,1069.9 L1467.0,1069.9 L1469.6,1069.9 L1472.2,1069.9 L1474.8,1069.9 L1477.3,1070.0 L1479.9,1070.0 L1482.5,1070.0 L1485.0,1070.0 L1487.6,1070.0 L1490.2,1070.1 L1492.7,1070.1 L1495.3,1070.1 L1497.8,1070.2 L1500.3,1070.2 L1502.9,1070.2" fill="none" stroke="#ffb400" stroke-width="8.0" stroke-linejoin="round" stroke-linecap="butt"/>
<path d="M430.0,256.6 L411.0,263.2 L401.8,267.1 L396.1,270.5 L393.5,272.6 L386.2,279.5 L383.4,281.1 L380.3,282.0 L360.4,284.9 L347.3,287.7 L341.0,289.6 L334.7,291.7 L312.9,300.3 L306.6,302.3 L300.2,304.0 L293.6,305.1 L283.7,306.2 L260.5,307.2 L260.5,314.7 L268.0,314.7 L291.2,313.7 L301.1,312.6 L307.7,311.5 L314.1,309.8 L320.4,307.8 L342.2,299.2 L348.5,297.1 L354.8,295.2 L367.9,292.4 L387.8,289.5 L390.9,288.6 L393.7,287.0 L401.0,280.1 L406.4,276.2 L409.3,274.6 L415.4,271.9 L437.5,264.1 L462.1,254.0 L474.6,249.3 L481.0,247.3 L487.4,245.6 L493.9,244.3 L503.8,242.9 L527.1,241.1 L543.5,240.2 L549.8,240.5 L556.4,241.2 L566.1,243.2 L572.3,245.2 L578.5,247.7 L584.5,250.6 L590.5,253.8 L599.2,259.0 L607.6,264.4 L615.7,270.2 L620.9,274.3 L631.0,283.0 L638.1,290.1 L646.9,300.1 L655.0,310.7 L664.4,324.5 L686.1,358.2 L696.7,375.2 L707.0,392.4 L716.7,409.9 L724.2,424.8 L753.5,488.5 L778.2,539.6 L805.3,593.2 L831.4,643.6 L856.8,690.6 L881.4,734.2 L905.3,774.3 L926.7,808.3 L943.6,833.2 L959.3,854.8 L967.5,865.3 L975.9,875.6 L984.5,885.7 L993.4,895.6 L1011.8,914.8 L1021.3,924.1 L1033.5,935.5 L1046.0,946.7 L1056.2,955.4 L1066.7,963.8 L1077.3,972.0 L1088.1,979.9 L1096.4,985.6 L1107.6,992.8 L1116.2,998.0 L1133.7,1007.5 L1142.6,1011.9 L1154.7,1017.4 L1167.0,1022.4 L1179.5,1027.1 L1204.8,1035.6 L1230.6,1043.1 L1243.6,1046.4 L1256.6,1049.5 L1279.6,1054.0 L1306.0,1058.1 L1332.5,1061.0 L1359.0,1063.1 L1385.7,1064.3 L1415.7,1065.0 L1456.6,1065.2 L1503.0,1064.8 L1503.0,1057.2 L1445.8,1057.7 L1416.5,1057.4 L1386.5,1056.6 L1356.6,1054.9 L1330.0,1052.5 L1303.6,1049.2 L1290.4,1047.1 L1277.2,1044.7 L1254.3,1039.7 L1228.4,1033.0 L1202.8,1025.1 L1180.7,1017.3 L1168.4,1012.4 L1159.2,1008.5 L1147.1,1003.0 L1138.2,998.5 L1120.8,988.8 L1103.9,978.1 L1095.6,972.4 L1084.8,964.5 L1074.2,956.3 L1063.7,947.9 L1053.5,939.2 L1041.0,928.0 L1028.8,916.6 L1019.3,907.3 L1007.7,895.4 L998.7,885.6 L989.9,875.7 L981.3,865.5 L964.8,844.6 L956.9,833.8 L947.3,820.2 L928.7,792.3 L905.8,755.4 L883.9,718.0 L859.5,674.4 L834.3,627.3 L806.7,573.8 L781.3,523.1 L759.6,478.0 L733.1,420.3 L727.2,408.3 L719.4,393.6 L711.1,379.1 L700.7,362.0 L670.1,314.2 L664.5,305.9 L658.6,297.8 L652.3,290.0 L647.8,285.0 L638.5,275.5 L628.4,266.8 L617.8,258.8 L603.8,249.7 L592.0,243.1 L582.9,238.9 L573.6,235.7 L563.9,233.7 L557.3,233.0 L550.7,232.7 L533.1,232.8 L502.9,234.8 L493.0,235.8 L486.4,236.8 L476.7,238.9 L464.0,242.9 L454.6,246.5Z" fill="#ff5a50"/>
<path d="M449.0,226.2 L405.7,245.0 L396.4,248.8 L386.9,252.3 L374.1,256.2 L347.8,262.1 L338.1,264.7 L331.7,266.8 L312.8,273.7 L303.2,276.8 L286.9,280.7 L277.1,282.4 L274.2,282.7 L268.0,281.7 L260.5,281.7 L260.5,289.2 L263.9,289.9 L270.5,290.4 L278.0,290.4 L284.6,289.9 L294.4,288.2 L310.7,284.3 L320.3,281.2 L339.2,274.3 L345.6,272.2 L355.3,269.6 L381.6,263.7 L394.4,259.8 L403.9,256.3 L413.2,252.5 L447.2,237.7 L462.7,231.2 L475.4,226.7 L485.1,224.3 L495.2,223.0 L515.5,222.1 L548.4,219.5 L561.5,219.0 L571.9,219.9 L578.6,221.1 L581.9,221.9 L588.1,224.1 L591.1,225.5 L596.7,228.8 L604.6,234.7 L612.1,241.4 L634.2,262.3 L645.9,274.5 L652.4,282.2 L660.5,292.8 L670.0,306.6 L679.1,320.8 L689.6,338.1 L699.7,355.6 L711.0,376.3 L721.8,397.2 L741.1,436.4 L794.7,548.9 L809.7,579.1 L825.0,609.0 L845.5,647.6 L871.3,694.9 L889.3,727.3 L906.2,756.5 L921.8,782.4 L936.3,805.1 L951.4,827.4 L967.3,849.1 L977.6,862.4 L986.1,872.8 L1014.7,905.9 L1026.1,918.2 L1038.2,929.9 L1045.8,936.6 L1056.1,945.3 L1066.6,953.7 L1079.9,964.0 L1098.9,977.9 L1115.4,989.7 L1126.6,997.2 L1138.0,1004.4 L1146.7,1009.5 L1155.6,1014.2 L1164.7,1018.6 L1173.9,1022.7 L1183.2,1026.5 L1195.8,1031.2 L1205.4,1034.3 L1218.3,1038.2 L1231.3,1041.7 L1244.5,1044.8 L1257.7,1047.6 L1274.3,1050.6 L1287.7,1052.7 L1304.3,1055.0 L1321.0,1056.9 L1337.8,1058.4 L1371.3,1060.6 L1408.3,1061.9 L1456.2,1062.3 L1503.0,1061.8 L1503.0,1054.2 L1448.7,1054.8 L1415.8,1054.4 L1382.2,1053.3 L1348.6,1051.2 L1331.9,1049.7 L1315.2,1047.9 L1298.5,1045.7 L1285.2,1043.6 L1258.6,1038.7 L1245.4,1035.8 L1232.3,1032.5 L1212.9,1026.8 L1193.8,1020.2 L1184.4,1016.5 L1175.2,1012.5 L1166.1,1008.2 L1157.2,1003.6 L1142.6,995.2 L1125.7,984.1 L1098.2,964.5 L1076.7,948.3 L1063.6,937.8 L1053.3,929.1 L1043.2,920.1 L1035.9,913.1 L1024.4,900.9 L997.9,870.4 L980.9,849.6 L972.7,838.9 L962.8,825.4 L945.7,800.4 L929.3,774.9 L910.3,743.2 L890.2,708.0 L856.2,646.0 L831.0,598.5 L815.7,568.6 L800.8,538.4 L739.8,410.8 L726.3,383.7 L713.7,359.9 L705.5,345.2 L697.1,330.6 L688.4,316.1 L681.2,304.8 L673.7,293.6 L666.0,282.6 L659.9,274.7 L653.4,267.0 L641.7,254.8 L619.6,233.9 L612.1,227.2 L606.9,223.1 L601.4,219.6 L595.6,216.6 L589.4,214.4 L586.1,213.6 L579.4,212.4 L569.0,211.5 L554.5,211.4 L547.6,211.6 L537.6,212.2 L511.3,214.4 L491.1,215.3 L480.9,216.2 L471.1,218.3 L461.5,221.4Z" fill="#ff7f14"/>
<path d="M432.5,240.9 L386.2,260.1 L376.9,263.7 L367.4,266.8 L341.5,274.1 L332.0,277.5 L313.2,284.8 L303.7,288.0 L293.9,290.3 L284.0,291.8 L273.9,292.7 L260.4,292.9 L260.4,300.4 L278.1,300.3 L291.5,299.3 L298.1,298.4 L304.7,297.1 L314.4,294.5 L323.8,291.1 L345.8,282.6 L355.4,279.6 L378.1,273.3 L387.5,270.1 L433.9,251.0 L467.6,235.7 L473.8,233.3 L480.2,231.4 L486.7,229.8 L493.2,228.5 L503.2,227.0 L513.2,226.0 L533.3,224.6 L546.0,224.4 L556.3,224.8 L563.0,225.4 L569.8,226.3 L576.3,227.7 L582.6,229.6 L585.7,230.8 L588.6,232.2 L594.3,235.4 L602.4,241.3 L610.1,247.9 L629.8,266.6 L639.4,276.1 L648.5,285.9 L654.9,293.6 L660.8,301.6 L666.4,310.0 L673.3,321.6 L689.7,351.1 L709.8,386.1 L719.4,403.8 L726.7,418.9 L760.7,492.1 L782.6,537.6 L806.7,585.6 L833.1,636.3 L863.3,692.6 L886.3,733.7 L898.2,754.0 L908.6,771.3 L928.3,802.5 L947.2,830.3 L965.1,854.8 L981.7,875.9 L990.3,886.2 L999.2,896.3 L1015.4,913.3 L1034.8,931.8 L1047.3,943.0 L1057.5,951.8 L1067.9,960.3 L1078.5,968.7 L1097.6,982.6 L1108.8,990.1 L1117.3,995.5 L1128.9,1002.4 L1137.7,1007.2 L1155.7,1016.2 L1164.9,1020.3 L1177.3,1025.4 L1186.7,1028.9 L1199.4,1033.4 L1222.0,1040.2 L1235.0,1043.6 L1248.2,1046.7 L1271.3,1051.3 L1297.9,1055.5 L1324.5,1058.7 L1354.7,1061.2 L1384.9,1062.8 L1415.2,1063.5 L1456.3,1063.7 L1503.0,1063.3 L1503.0,1055.7 L1448.8,1056.2 L1419.3,1056.0 L1385.7,1055.0 L1355.5,1053.2 L1325.4,1050.5 L1298.7,1047.1 L1272.2,1042.6 L1259.0,1039.9 L1245.8,1036.9 L1223.0,1030.8 L1200.6,1023.7 L1188.0,1019.1 L1178.6,1015.4 L1160.2,1007.2 L1142.2,998.1 L1133.4,993.2 L1121.9,986.2 L1105.1,975.1 L1086.0,961.2 L1075.4,952.8 L1062.5,942.1 L1052.3,933.3 L1039.8,922.0 L1030.1,912.8 L1020.6,903.4 L1011.3,893.7 L1002.3,883.8 L993.5,873.6 L982.9,860.6 L964.5,836.5 L954.7,822.8 L945.2,809.0 L935.8,795.0 L925.0,778.1 L904.0,743.6 L882.2,705.7 L854.8,655.5 L823.4,596.1 L803.5,557.2 L784.2,518.0 L762.5,472.4 L732.8,408.3 L726.9,396.3 L722.2,387.4 L715.7,375.6 L697.2,343.6 L682.5,317.0 L675.7,305.4 L670.2,296.9 L664.4,288.7 L660.3,283.5 L653.7,275.9 L644.5,266.2 L632.4,254.4 L617.6,240.4 L612.5,235.9 L607.3,231.7 L599.0,226.2 L593.2,223.3 L587.0,221.1 L577.3,218.8 L570.5,217.9 L560.3,217.1 L550.2,216.8 L532.5,216.8 L522.5,217.2 L509.1,218.1 L499.0,219.1 L489.0,220.4 L475.9,223.0 L466.3,225.8 L453.9,230.8Z" fill="#ff0022"/>
<rect x="259.8" y="109.9" width="8.5" height="1024.5" fill="#000"/>
<rect x="242.6" y="1111.5" width="1265.8000000000002" height="8.5" fill="#000"/>
<rect x="242.6" y="883.55" width="18" height="8.9" fill="#000"/>
<rect x="242.6" y="655.85" width="18" height="8.9" fill="#000"/>
<rect x="242.6" y="428.15" width="18" height="8.9" fill="#000"/>
<rect x="242.6" y="200.45" width="18" height="8.9" fill="#000"/>
<rect x="254.4" y="998.35" width="6" height="7" fill="#000"/>
<rect x="254.4" y="770.65" width="6" height="7" fill="#000"/>
<rect x="254.4" y="542.95" width="6" height="7" fill="#000"/>
<rect x="254.4" y="315.25" width="6" height="7" fill="#000"/>
<rect x="569.83" y="1119" width="8.9" height="15.400000000000091" fill="#000"/>
<rect x="879.91" y="1119" width="8.9" height="15.400000000000091" fill="#000"/>
<rect x="1189.99" y="1119" width="8.9" height="15.400000000000091" fill="#000"/>
<rect x="1499.55" y="1119" width="8.9" height="15.400000000000091" fill="#000"/>
<rect x="414.74" y="1119" width="9" height="3.2" fill="#000"/>
<rect x="724.82" y="1119" width="9" height="3.2" fill="#000"/>
<rect x="1034.9" y="1119" width="9" height="3.2" fill="#000"/>
<rect x="1344.98" y="1119" width="9" height="3.2" fill="#000"/>
<text transform="translate(197.21,1131.38) scale(0.9400,1)" font-size="60.5" font-weight="bold" font-style="normal">0</text>
<text transform="translate(148.87,903.67) scale(0.9400,1)" font-size="60.5" font-weight="bold" font-style="normal">0.5</text>
<text transform="translate(196.36,675.98) scale(0.9400,1)" font-size="60.5" font-weight="bold" font-style="normal">1</text>
<text transform="translate(148.87,448.28) scale(0.9400,1)" font-size="60.5" font-weight="bold" font-style="normal">1.5</text>
<text transform="translate(197.21,220.58) scale(0.9400,1)" font-size="60.5" font-weight="bold" font-style="normal">2</text>
<text transform="translate(214.27,1190.8) scale(0.9400,1)" font-size="60.5" font-weight="bold" font-style="normal">400</text>
<text transform="translate(524.35,1190.8) scale(0.9400,1)" font-size="60.5" font-weight="bold" font-style="normal">420</text>
<text transform="translate(834.43,1190.8) scale(0.9400,1)" font-size="60.5" font-weight="bold" font-style="normal">440</text>
<text transform="translate(1144.51,1190.8) scale(0.9400,1)" font-size="60.5" font-weight="bold" font-style="normal">460</text>
<text transform="translate(1454.59,1190.8) scale(0.9400,1)" font-size="60.5" font-weight="bold" font-style="normal">480</text>
<text transform="translate(89.5,810.8) rotate(-90) scale(0.9655,1)" font-size="78.62" font-weight="bold" font-style="normal">Absorbance</text>
<text transform="translate(577.1,1301) scale(0.9678,1)" font-size="78.34" font-weight="bold" font-style="normal">Wavelength (nm)</text>
<rect x="773.5" y="185" width="9" height="232.5" fill="#000"/>
<path d="M779.7,121.6 L779.7,132.4 L782.3,132.4 L782.3,144.4 L785.3,144.4 L785.3,155.6 L787.9,155.6 L787.9,166.8 L790.2,166.8 L790.2,178.7 L792.8,178.7 L792.8,189.2 L796.5,189.2 L796.5,192.6 L759.6,192.6 L759.6,189.2 L762.6,189.2 L762.6,178.7 L765.2,178.7 L765.2,166.8 L767.8,166.8 L767.8,155.6 L770.4,155.6 L770.4,144.4 L773.4,144.4 L773.4,132.4 L776.4,132.4 L776.4,121.6Z" fill="#000"/>
<text transform="translate(681.86,101.4) scale(0.9755,1)" font-size="65.93" font-weight="bold" font-style="normal">[ADP]</text>
<rect x="1009.5" y="30.9" width="8.5" height="502.80000000000007" fill="#000"/>
<rect x="1003.6" y="525.1" width="633.1999999999999" height="8.6" fill="#000"/>
<rect x="1003.6" y="407.12" width="7" height="8.6" fill="#000"/>
<rect x="1003.6" y="289.15" width="7" height="8.6" fill="#000"/>
<rect x="1003.6" y="171.18" width="7" height="8.6" fill="#000"/>
<rect x="1003.6" y="53.2" width="7" height="8.6" fill="#000"/>
<rect x="1029.4" y="532" width="9" height="7.399999999999977" fill="#000"/>
<rect x="1126.29" y="532" width="9" height="7.399999999999977" fill="#000"/>
<rect x="1223.17" y="532" width="9" height="7.399999999999977" fill="#000"/>
<rect x="1320.06" y="532" width="9" height="7.399999999999977" fill="#000"/>
<rect x="1416.94" y="532" width="9" height="7.399999999999977" fill="#000"/>
<rect x="1513.83" y="532" width="9" height="7.399999999999977" fill="#000"/>
<rect x="1610.71" y="532" width="9" height="7.399999999999977" fill="#000"/>
<rect x="1077.84" y="532" width="9" height="4.5" fill="#000"/>
<rect x="1174.73" y="532" width="9" height="4.5" fill="#000"/>
<rect x="1271.61" y="532" width="9" height="4.5" fill="#000"/>
<rect x="1368.5" y="532" width="9" height="4.5" fill="#000"/>
<rect x="1465.38" y="532" width="9" height="4.5" fill="#000"/>
<rect x="1562.27" y="532" width="9" height="4.5" fill="#000"/>
<text transform="translate(973.67,542.12) scale(0.9300,1)" font-size="43.5" font-weight="bold" font-style="normal">0</text>
<text transform="translate(939.28,424.15) scale(0.9300,1)" font-size="43.5" font-weight="bold" font-style="normal">0.5</text>
<text transform="translate(973.06,306.18) scale(0.9300,1)" font-size="43.5" font-weight="bold" font-style="normal">1</text>
<text transform="translate(939.28,188.2) scale(0.9300,1)" font-size="43.5" font-weight="bold" font-style="normal">1.5</text>
<text transform="translate(973.67,67.72) scale(0.9300,1)" font-size="43.5" font-weight="bold" font-style="normal">2</text>
<text transform="translate(1020.17,579.3) scale(0.9300,1)" font-size="43.5" font-weight="bold" font-style="normal">0</text>
<text transform="translate(1099.87,579.3) scale(0.9300,1)" font-size="43.5" font-weight="bold" font-style="normal">0.5</text>
<text transform="translate(1213.24,579.3) scale(0.9300,1)" font-size="43.5" font-weight="bold" font-style="normal">1</text>
<text transform="translate(1293.23,579.3) scale(0.9300,1)" font-size="43.5" font-weight="bold" font-style="normal">1.5</text>
<text transform="translate(1407.81,579.3) scale(0.9300,1)" font-size="43.5" font-weight="bold" font-style="normal">2</text>
<text transform="translate(1487.51,579.3) scale(0.9300,1)" font-size="43.5" font-weight="bold" font-style="normal">2.5</text>
<text transform="translate(1601.69,579.3) scale(0.9300,1)" font-size="43.5" font-weight="bold" font-style="normal">3</text>
<rect x="1019.6" y="418.1" width="25.4" height="24" fill="#000"/>
<rect x="1116.1" y="313" width="25.4" height="24" fill="#000"/>
<rect x="1213.8" y="230.2" width="25.4" height="24" fill="#000"/>
<rect x="1323.2" y="130.7" width="3.2" height="38" fill="#000"/>
<rect x="1319.2" y="129.1" width="11.2" height="3.2" rx="1" fill="#000"/>
<rect x="1319.2" y="167.1" width="11.2" height="3.2" rx="1" fill="#000"/>
<rect x="1310.6" y="136.4" width="25.4" height="24" fill="#000"/>
<rect x="1407.2" y="55.3" width="25.4" height="24" fill="#000"/>
<rect x="1516.2" y="48.4" width="3.2" height="49.1" fill="#000"/>
<rect x="1512.2" y="46.8" width="11.2" height="3.2" rx="1" fill="#000"/>
<rect x="1512.2" y="95.9" width="11.2" height="3.2" rx="1" fill="#000"/>
<rect x="1503.6" y="59.9" width="25.4" height="24" fill="#000"/>
<rect x="1612.7" y="40.5" width="3.2" height="51.5" fill="#000"/>
<rect x="1608.7" y="38.9" width="11.2" height="3.2" rx="1" fill="#000"/>
<rect x="1608.7" y="90.4" width="11.2" height="3.2" rx="1" fill="#000"/>
<rect x="1600.1" y="53" width="25.4" height="24" fill="#000"/>
<rect x="1415.6" y="76" width="11.5" height="5.5" fill="#000"/>
<rect x="1222.4" y="252" width="11.2" height="6" fill="#000"/>
<path d="M1029.5,441 L1037.5,441 L1033.5,445.7 Z" fill="#000"/>
<text transform="translate(909.8,329.88) rotate(-90) scale(0.9,1)" font-weight="bold"><tspan font-style="italic" font-size="62.46" x="0" y="0">A</tspan><tspan font-size="41.86" x="41.35" y="14.9">420</tspan></text>
<text transform="translate(0,632.5) scale(0.88,1)" font-weight="bold" font-size="58.0"><tspan x="1344.54 1364.91 1415.32 1460.32 1502.6 1522.6" y="0">[ADP] </tspan><tspan font-weight="normal" font-size="38.61" x="1538.93" y="1.29">(</tspan><tspan x="1556.46" y="0" textLength="91.85" lengthAdjust="spacingAndGlyphs">µM</tspan><tspan font-weight="normal" font-size="38.61" x="1647.53" y="1.29">)</tspan></text>
</g>
</svg>
</body></html>
